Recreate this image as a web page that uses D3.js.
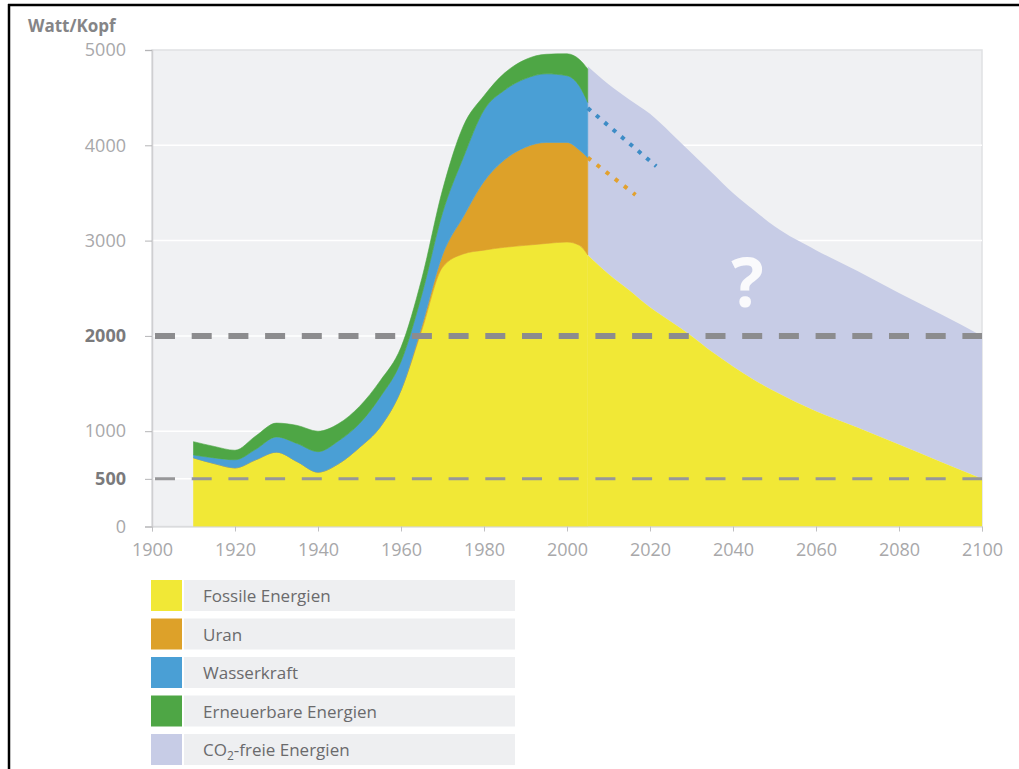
<!DOCTYPE html>
<html>
<head>
<meta charset="utf-8">
<script src="https://cdn.jsdelivr.net/npm/d3@7"></script>
<style>
  html, body { margin: 0; padding: 0; background: #ffffff; }
  svg { display: block; font-family: "Open Sans", "Noto Sans", sans-serif; }
</style>
</head>
<body>
<svg id="chart" width="1019" height="769"></svg>
<script>
// ---------- DATA ----------
const years      = [1910, 1915, 1920, 1925, 1930, 1935, 1940, 1945, 1950, 1955, 1960, 1965, 1970, 1975, 1980, 1985, 1990, 1995, 2000, 2003, 2005];
const fossil     = [ 720,  660,  615,  700,  780,  680,  570,  660,  830, 1045, 1430, 2060, 2720, 2860, 2900, 2930, 2950, 2970, 2985, 2950, 2850];
const uran       = [   0,    0,    0,    0,    0,    0,    0,    0,    0,    0,    0,   40,  130,  390,  720,  920, 1030, 1060, 1045, 1000, 1020];
const wasser     = [  30,   60,   85,  110,  160,  190,  215,  240,  250,  315,  300,  330,  440,  620,  750,  730,  720,  720,  700,  670,  580];
const erneuerbar = [ 140,  120,  100,  140,  145,  190,  215,  180,  180,  170,  150,  170,  240,  330,  150,  180,  200,  205,  230,  280,  350];

const futureYears  = [2005, 2010, 2015, 2020, 2025, 2030, 2035, 2040, 2045, 2050, 2060, 2070, 2080, 2090, 2100];
const fossilFuture = [2850, 2650, 2480, 2300, 2150, 2000, 1830, 1680, 1540, 1420, 1210, 1040,  860,  680,  500];
const co2freeTop   = [4830, 4640, 4480, 4330, 4130, 3920, 3710, 3500, 3320, 3150, 2900, 2680, 2450, 2230, 2000];

const projWasserYears = [2005, 2021.5];
const projWasserVals  = [4390, 3780];
const projUranYears   = [2005, 2016.5];
const projUranVals    = [3870, 3480];

const yTicks = [0, 500, 1000, 2000, 3000, 4000, 5000];
const boldTicks = [500, 2000];
const xTicks = [1900, 1920, 1940, 1960, 1980, 2000, 2020, 2040, 2060, 2080, 2100];
const targetLines = [2000, 500];

const seriesKeys = ["fossil", "uran", "wasser", "erneuerbar"];
const legendLabels = ["Fossile Energien", "Uran", "Wasserkraft", "Erneuerbare Energien", "CO2-freie Energien"];
const colors = { fossil: "#f1e836", uran: "#dda129", wasser: "#4a9fd5", erneuerbar: "#4ea645", co2frei: "#c7cce6" };
const legendColors = [colors.fossil, colors.uran, colors.wasser, colors.erneuerbar, colors.co2frei];

// ---------- SETUP ----------
const svg = d3.select("#chart");
const x = d3.scaleLinear().domain([1900, 2100]).range([152, 982]);
const y = d3.scaleLinear().domain([0, 5000]).range([526.5, 50]);

// frame lines
svg.append("line").attr("x1", 8).attr("x2", 1019).attr("y1", 5).attr("y2", 5).attr("stroke", "#000").attr("stroke-width", 2.5);
svg.append("line").attr("x1", 9).attr("x2", 9).attr("y1", 4).attr("y2", 769).attr("stroke", "#000").attr("stroke-width", 2.5);

// plot background
svg.append("rect")
  .attr("x", x(1900)).attr("y", y(5000))
  .attr("width", x(2100) - x(1900)).attr("height", y(0) - y(5000))
  .attr("fill", "#f0f1f3").attr("stroke", "#e0e1e3").attr("stroke-width", 1.5);

// gridlines
svg.append("g").selectAll("line").data(yTicks.filter(d => d > 0 && d < 5000)).join("line")
  .attr("x1", x(1900)).attr("x2", x(2100))
  .attr("y1", d => y(d)).attr("y2", d => y(d))
  .attr("stroke", "#ffffff").attr("stroke-width", 1.5);

// future areas
const fut = futureYears.map((yr, i) => ({ year: yr, fossil: fossilFuture[i], top: co2freeTop[i] }));
svg.append("path").datum(fut)
  .attr("fill", colors.co2frei)
  .attr("d", d3.area().curve(d3.curveMonotoneX)
    .x(d => x(d.year)).y0(d => y(d.fossil)).y1(d => y(d.top)));
svg.append("path").datum(fut)
  .attr("fill", colors.fossil)
  .attr("d", d3.area().curve(d3.curveMonotoneX)
    .x(d => x(d.year)).y0(y(0)).y1(d => y(d.fossil)));

// historical stack
const hist = years.map((yr, i) => ({ year: yr, fossil: fossil[i], uran: uran[i], wasser: wasser[i], erneuerbar: erneuerbar[i] }));
const stacked = d3.stack().keys(seriesKeys)(hist);
const areaGen = d3.area().curve(d3.curveMonotoneX)
  .x(d => x(d.data.year)).y0(d => y(d[0])).y1(d => y(d[1]));
svg.append("g").selectAll("path").data(stacked).join("path")
  .attr("fill", d => colors[d.key])
  .attr("stroke", d => colors[d.key]).attr("stroke-width", 0.6)
  .attr("d", areaGen);

// target dashed lines
svg.append("g").selectAll("line").data(targetLines).join("line")
  .attr("x1", x(1900) + 3).attr("x2", x(2100))
  .attr("y1", d => y(d)).attr("y2", d => y(d))
  .attr("stroke", d => d === 2000 ? "#8c8c8e" : "#979799")
  .attr("stroke-width", d => d === 2000 ? 6 : 3)
  .attr("stroke-dasharray", "20 16.7");

// projection dotted lines
const lineGen = d3.line().x(d => x(d[0])).y(d => y(d[1]));
svg.append("path").datum(projWasserYears.map((yr, i) => [yr, projWasserVals[i]]))
  .attr("d", lineGen).attr("fill", "none").attr("stroke", "#3d8cc6")
  .attr("stroke-width", 4).attr("stroke-dasharray", "4 7");
svg.append("path").datum(projUranYears.map((yr, i) => [yr, projUranVals[i]]))
  .attr("d", lineGen).attr("fill", "none").attr("stroke", "#e2a12e")
  .attr("stroke-width", 4).attr("stroke-dasharray", "4 7.5");

// question mark
svg.append("text").attr("x", x(2043.5)).attr("y", y(2300))
  .attr("text-anchor", "middle").attr("font-size", 68).attr("font-weight", "bold")
  .attr("fill", "#fafafc").text("?");

// axes
const yAxis = svg.append("g").attr("transform", `translate(${x(1900)},0)`)
  .call(d3.axisLeft(y).tickValues(yTicks).tickSize(7).tickPadding(19).tickFormat(d3.format("d")));
yAxis.select(".domain").attr("stroke", "#cfcfd1").attr("stroke-width", 1.5);
yAxis.selectAll(".tick line").attr("stroke", "#b5b5b7");
yAxis.selectAll(".tick text")
  .attr("font-size", 18)
  .attr("font-family", "'Open Sans', sans-serif")
  .attr("font-weight", d => boldTicks.includes(d) ? "bold" : "normal")
  .attr("fill", d => boldTicks.includes(d) ? "#7a7a7c" : "#a8a8aa");

const xAxis = svg.append("g").attr("transform", `translate(0,${y(0)})`)
  .call(d3.axisBottom(x).tickValues(xTicks).tickSize(5).tickPadding(12).tickFormat(d3.format("d")));
xAxis.select(".domain").attr("stroke", "#d5d5d7");
xAxis.selectAll(".tick line").attr("stroke", "#c0c0c2");
xAxis.selectAll(".tick text")
  .attr("font-size", 18)
  .attr("font-family", "'Open Sans', sans-serif")
  .attr("fill", "#a8a8aa");

// axis title
svg.append("text").attr("x", 28).attr("y", 32)
  .attr("font-size", 17).attr("font-weight", "bold").attr("fill", "#858587")
  .text("Watt/Kopf");

// legend
const lg = svg.append("g");
const rows = lg.selectAll("g").data(legendLabels).join("g")
  .attr("transform", (d, i) => `translate(151,${580 + i * 38.5})`);
rows.append("rect").attr("x", 0).attr("y", 0).attr("width", 31).attr("height", 31)
  .attr("fill", (d, i) => legendColors[i]);
rows.append("rect").attr("x", 33).attr("y", 0).attr("width", 331).attr("height", 31)
  .attr("fill", "#eeeff1");
rows.each(function(d) {
  const t = d3.select(this).append("text").attr("x", 52).attr("y", 22)
    .attr("font-size", 17).attr("fill", "#6a6a6c");
  if (d.startsWith("CO2")) {
    t.append("tspan").text("CO");
    t.append("tspan").attr("font-size", 12).attr("dy", 4).text("2");
    t.append("tspan").attr("dy", -4).text(d.slice(3));
  } else {
    t.text(d);
  }
});
</script>
</body>
</html>
